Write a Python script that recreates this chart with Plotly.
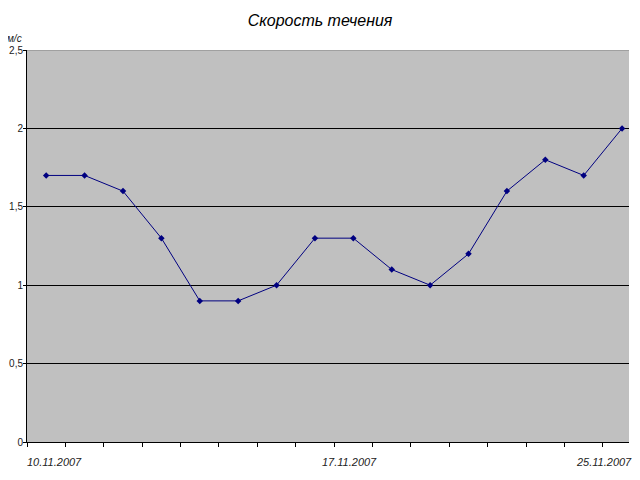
import plotly.graph_objects as go

dates = ["10.11.2007", "11.11.2007", "12.11.2007", "13.11.2007", "14.11.2007", "15.11.2007",
         "16.11.2007", "17.11.2007", "18.11.2007", "19.11.2007", "20.11.2007", "21.11.2007",
         "22.11.2007", "23.11.2007", "24.11.2007", "25.11.2007"]
speed = [1.7, 1.7, 1.6, 1.3, 0.9, 0.9, 1.0, 1.3, 1.3, 1.1, 1.0, 1.2, 1.6, 1.8, 1.7, 2.0]
shown_labels = ["10.11.2007", "17.11.2007", "25.11.2007"]
y_ticks = [0, 0.5, 1, 1.5, 2, 2.5]

idx = list(range(len(dates)))
font = "Liberation Sans, Arial, sans-serif"

fig = go.Figure()
fig.add_trace(go.Scatter(
    x=idx, y=speed, mode="lines+markers",
    line=dict(color="#000080", width=1),
    marker=dict(symbol="diamond", size=5, color="#000080"),
    hoverinfo="skip",
))

label_shift = {"10.11.2007": 0.21, "17.11.2007": 0.89, "25.11.2007": -0.47}
annotations = []
for lab in shown_labels:
    i = dates.index(lab)
    annotations.append(dict(
        x=i + label_shift[lab], y=0, xref="x", yref="paper", yanchor="top",
        yshift=-12, text="<i>" + lab + "</i>", showarrow=False,
        font=dict(family=font, size=11, color="#222222"),
    ))
annotations.append(dict(
    x=0, y=1, xref="paper", yref="paper", xanchor="right", yanchor="bottom",
    xshift=-3, yshift=4, text="<i>м/с</i>", showarrow=False,
    font=dict(family=font, size=10, color="#222222"),
))

fig.update_layout(
    width=624, height=464,
    margin=dict(l=19, r=3, t=42, b=30, autoexpand=False),
    paper_bgcolor="white", plot_bgcolor="#C0C0C0",
    separators=",.",
    showlegend=False,
    title=dict(text="<i>Скорость течения</i>", x=0.5, xanchor="center", y=0.974, yanchor="middle",
               font=dict(family=font, size=16, color="black")),
    xaxis=dict(
        range=[-0.5, 15.18], tickvals=[i + 0.5 for i in idx[:-1]] + [-0.5], showticklabels=False,
        ticks="outside", ticklen=4, tickcolor="black", showgrid=False, zeroline=False,
        showline=True, linecolor="black", linewidth=1, automargin=False,
    ),
    yaxis=dict(
        range=[0, 2.5], tickvals=y_ticks, ticks="outside", ticklen=3, tickcolor="black",
        showgrid=True, gridcolor="black", gridwidth=1, zeroline=False,
        showline=True, linecolor="black", linewidth=1, automargin=False,
        ticklabelstandoff=-2,
        tickfont=dict(family=font, size=10, color="#222222"),
    ),
    annotations=annotations,
    shapes=[dict(type="line", xref="paper", yref="y", x0=0, x1=1, y0=2.5, y1=2.5,
                 line=dict(color="#808080", width=1))],
)
fig.write_html("out.html")
